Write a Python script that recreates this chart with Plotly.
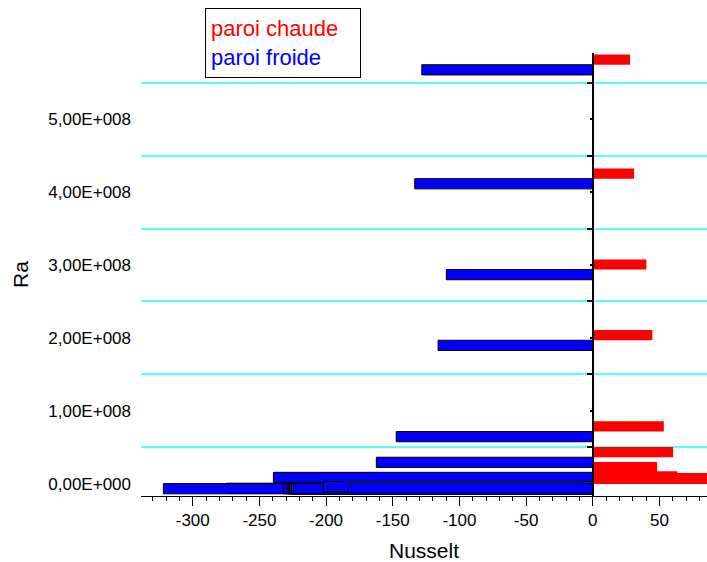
import plotly.graph_objects as go

# ---- data ----
ra = [5.75e8, 4.186e8, 2.938e8, 1.968e8, 7.15e7, 3.62e7, 1.55e7,
      6e5, 0, 0, 0, 0, 0, 0, 0, 3e6, 0]
nu_chaude = [28, 31, 40.2, 44.7, 53.3, 60.3, 48.3,
             95, 95, 95, 95, 95, 95, 95, 95, 63.5, 95]
nu_froide = [-128.2, -133.5, -109.8, -116, -147.4, -162.3, -239.5,
             -275, -322, -232, -229.4, -228.2, -227.5, -226, -224.5, -202, -183.3]

y_tickvals = [0, 1e8, 2e8, 3e8, 4e8, 5e8]
y_ticktext = ["0,00E+000", "1,00E+008", "2,00E+008", "3,00E+008", "4,00E+008", "5,00E+008"]
grid_vals = [0.5e8, 1.5e8, 2.5e8, 3.5e8, 4.5e8, 5.5e8]
x_tickvals = [-300, -250, -200, -150, -100, -50, 0, 50]
x_ticktext = ["-300", "-250", "-200", "-150", "-100", "-50", "0", "50"]
series_names = ["paroi chaude", "paroi froide"]

# ---- style ----
BAR_H = 1.4e7
X_RANGE = [-338.8, 85.7]
Y_RANGE = [-1.70e7, 5.911e8]
FONT = "Liberation Sans, Arial, sans-serif"
RED = "#FF0000"
BLUE = "#0000FF"

fig = go.Figure()
fig.add_trace(go.Bar(
    y=ra, x=nu_froide, orientation="h", width=BAR_H, offset=-BAR_H,
    marker=dict(color=BLUE, line=dict(color="black", width=1)),
    name=series_names[1], yaxis="y"))
fig.add_trace(go.Bar(
    y=ra, x=nu_chaude, orientation="h", width=BAR_H, offset=0,
    marker=dict(color=RED, line=dict(width=0)),
    name=series_names[0], yaxis="y2"))

zero_pos = (0 - X_RANGE[0]) / (X_RANGE[1] - X_RANGE[0])

fig.update_layout(
    width=707, height=562,
    margin=dict(l=141, r=0, t=53, b=66, pad=0),
    paper_bgcolor="white", plot_bgcolor="white",
    barmode="overlay", showlegend=False,
    font=dict(family=FONT, color="black"),
    xaxis=dict(
        range=X_RANGE, tickmode="array", tickvals=x_tickvals, ticktext=x_ticktext,
        showgrid=False, zeroline=False, showline=True, linecolor="black", linewidth=1,
        ticks="outside", ticklen=9, tickwidth=1, tickcolor="black",
        tickfont=dict(size=17, family=FONT, color="black"),
        minor=dict(dtick=10, tick0=0, ticks="outside", ticklen=4, tickcolor="black", showgrid=False),
        title=dict(text="Nusselt", font=dict(size=21, family=FONT, color="black"), standoff=15),
    ),
    yaxis=dict(
        range=Y_RANGE, tickmode="array", tickvals=y_tickvals, ticktext=y_ticktext,
        showgrid=False, zeroline=False, showline=False,
        ticks="", ticklabelstandoff=9,
        tickfont=dict(size=17, family=FONT, color="black"),
        title=dict(text="Ra", font=dict(size=21, family=FONT, color="black"), standoff=13),
    ),
    yaxis2=dict(
        range=Y_RANGE, overlaying="y", anchor="free", position=zero_pos, side="left",
        tickmode="array", tickvals=grid_vals, showticklabels=False,
        showgrid=True, gridcolor="#55FFFF", gridwidth=1.5, zeroline=False,
        showline=True, linecolor="black", linewidth=1.5,
        ticks="outside", ticklen=5, tickwidth=1.5, tickcolor="black",
        minor=dict(tickvals=y_tickvals, ticks="outside", ticklen=2, tickcolor="black", showgrid=False),
    ),
    annotations=[dict(
        xref="paper", yref="paper", x=(205 - 141) / 566, y=(496 - 8.3) / 443,
        xanchor="left", yanchor="top", align="left", valign="middle",
        text=f"<span style='color:{RED}'>{series_names[0]}</span><br>"
             f"<span style='color:{BLUE}'>{series_names[1]}</span>",
        font=dict(size=22, family=FONT), showarrow=False,
        bordercolor="black", borderwidth=1, borderpad=5, bgcolor="white",
        width=144, height=58,
    )],
)

fig.write_html("out.html",
               config={"displayModeBar": False},
               post_script="document.body.style.margin='0';document.body.style.overflow='hidden';")
